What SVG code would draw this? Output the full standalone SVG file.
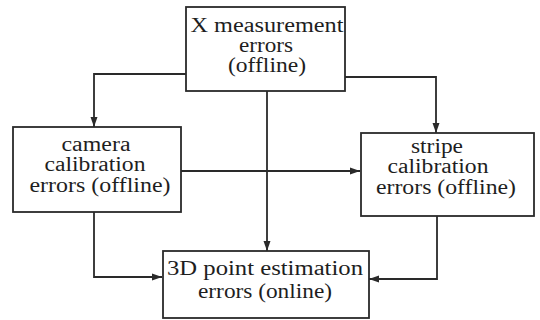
<svg xmlns="http://www.w3.org/2000/svg" width="540" height="320" viewBox="0 0 540 320">
  <style>
    .box { fill: #ffffff; stroke: #2a2a2a; stroke-width: 1.8; }
    .lbl { font-family: "Liberation Serif", "Times New Roman", serif; font-size: 20px; fill: #1e1e1e; text-anchor: middle; }
    .wire { fill: none; stroke: #2a2a2a; stroke-width: 1.8; marker-end: url(#arrow); }
  </style>
  <defs>
    <marker id="arrow" viewBox="0 0 10 10" refX="10" refY="5" markerWidth="10" markerHeight="10" markerUnits="userSpaceOnUse" orient="auto">
      <path d="M0,1.5 L10,5 L0,8.5 Z" fill="#2a2a2a"/>
    </marker>
  </defs>
  <rect width="540" height="320" fill="#ffffff"/>

  <g id="connectors">
    <path class="wire" d="M186,74 H94 V127"/>
    <path class="wire" d="M345,77 H436 V133"/>
    <path class="wire" d="M267,91 V251"/>
    <path class="wire" d="M181,171 H360"/>
    <path class="wire" d="M94,212 V277 H162"/>
    <path class="wire" d="M437,216 V279 H369"/>
  </g>

  <g id="x-measurement">
    <rect class="box" x="186" y="7" width="159" height="84"/>
    <text class="lbl" x="267" y="32" textLength="153" lengthAdjust="spacingAndGlyphs">X measurement</text>
    <text class="lbl" x="266" y="52" textLength="54" lengthAdjust="spacingAndGlyphs">errors</text>
    <text class="lbl" x="267" y="72" textLength="78" lengthAdjust="spacingAndGlyphs">(offline)</text>
  </g>

  <g id="camera-calibration">
    <rect class="box" x="13" y="127" width="168" height="85"/>
    <text class="lbl" x="96" y="151" textLength="69" lengthAdjust="spacingAndGlyphs">camera</text>
    <text class="lbl" x="95" y="171" textLength="101" lengthAdjust="spacingAndGlyphs">calibration</text>
    <text class="lbl" x="100" y="192" textLength="141" lengthAdjust="spacingAndGlyphs">errors (offline)</text>
  </g>

  <g id="stripe-calibration">
    <rect class="box" x="361" y="133" width="173" height="83"/>
    <text class="lbl" x="437" y="153" textLength="52" lengthAdjust="spacingAndGlyphs">stripe</text>
    <text class="lbl" x="438" y="173" textLength="101" lengthAdjust="spacingAndGlyphs">calibration</text>
    <text class="lbl" x="446" y="194" textLength="140" lengthAdjust="spacingAndGlyphs">errors (offline)</text>
  </g>

  <g id="point-estimation">
    <rect class="box" x="163" y="251" width="206" height="67"/>
    <text class="lbl" x="265" y="275" textLength="196" lengthAdjust="spacingAndGlyphs">3D point estimation</text>
    <text class="lbl" x="265" y="298" textLength="134" lengthAdjust="spacingAndGlyphs">errors (online)</text>
  </g>
</svg>
